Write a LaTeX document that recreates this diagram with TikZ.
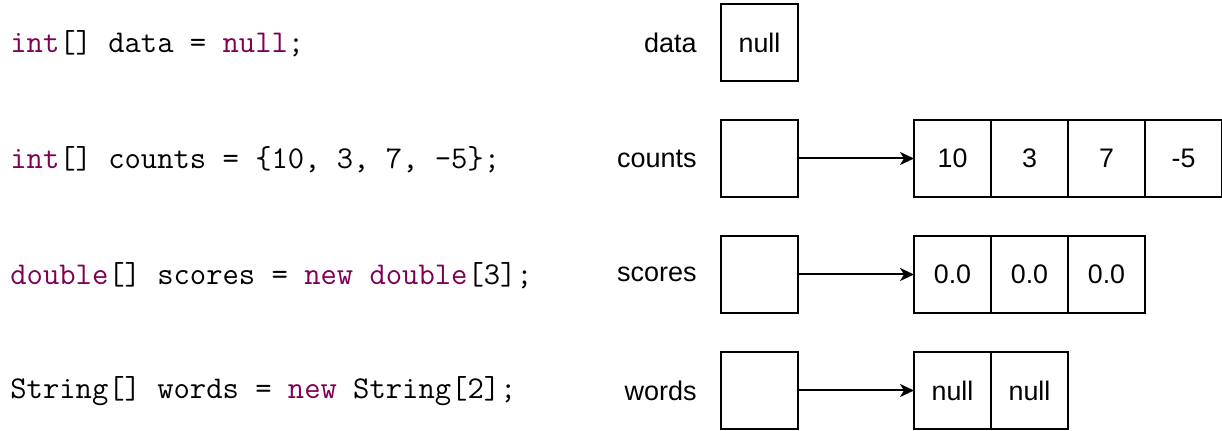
\documentclass[tikz,border=0pt]{standalone}
\usepackage{fontspec}
\setsansfont{Liberation Sans}
\usetikzlibrary{arrows.meta}
\usetikzlibrary{positioning}
\definecolor{keyword}{RGB}{127,0,85}
\newcommand{\kw}[1]{\textcolor{keyword}{#1}}

\begin{document}
\begin{tikzpicture}[x=0.5pt,y=-0.5pt,
    code/.style={anchor=west,inner sep=0pt,font=\fontsize{15.85}{18}\selectfont\ttfamily},
    varname/.style={anchor=east,inner sep=0pt,font=\fontsize{13.5}{16}\selectfont\sffamily},
    cell/.style={draw,line width=1pt,minimum size=38.5pt,inner sep=0pt,outer sep=0pt,
      font=\fontsize{13.4}{16}\selectfont\sffamily},
    ref/.style={-{Stealth[length=7pt,width=6.5pt,inset=2pt]},line width=1pt}]
    \useasboundingbox (0,0) rectangle (1222,431);

    % source lines
    \node[code] (ldata) at (10,43.5) {\kw{int}[] data = \kw{null};};
    \node[code] (lcounts) at (10,159.5) {\kw{int}[] counts = \{10, 3, 7, -5\};};
    \node[code] (lscores) at (10,275.5) {\kw{double}[] scores = \kw{new} \kw{double}[3];};
    \node[code] (lwords) at (10,391.5) {String[] words = \kw{new} String[2];};

    % variables
    \node[cell] (data) at (759.5,42.5) {null};
    \node[varname, left=12pt of data] {data};
    \node[cell] (counts) at (759.5,158.5) {};
    \node[varname, left=12pt of counts] {counts};
    \node[cell] (scores) at (759.5,274.5) {};
    \node[varname, left=12pt of scores] {scores};
    \node[cell] (words) at (759.5,390.5) {};
    \node[varname, left=12pt of words] {words};

    % arrays on the heap
    \node[cell] (c1) at (952.5,158.5) {10};
    \node[cell, right=0pt of c1] (c2) {3};
    \node[cell, right=0pt of c2] (c3) {7};
    \node[cell, right=0pt of c3] (c4) {-5};

    \node[cell] (s1) at (952.5,274.5) {0.0};
    \node[cell, right=0pt of s1] (s2) {0.0};
    \node[cell, right=0pt of s2] (s3) {0.0};

    \node[cell] (w1) at (952.5,390.5) {null};
    \node[cell, right=0pt of w1] (w2) {null};

    \draw[ref] (counts) -- (c1);
    \draw[ref] (scores) -- (s1);
    \draw[ref] (words) -- (w1);
\end{tikzpicture}
\end{document}
